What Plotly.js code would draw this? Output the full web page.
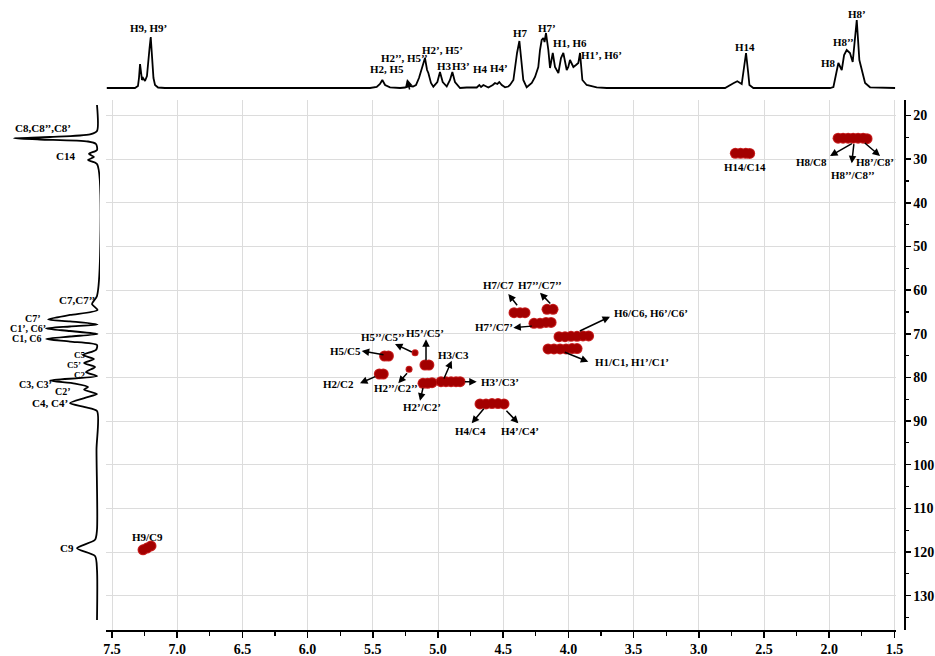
<!DOCTYPE html>
<html>
<head>
<meta charset="utf-8">
<script src="https://cdn.plot.ly/plotly-3.0.1.min.js"></script>
<style>html,body{margin:0;padding:0;background:#fff;}#chart{width:935px;height:656px;}</style>
</head>
<body>
<div id="chart"></div>
<script>
// ---- 1D proton projection (top): chemical shift (ppm) and relative intensity ----
const topPpm = [7.54,7.324,7.301,7.293,7.285,7.278,7.270,7.262,7.247,7.232,7.220,7.212,7.203,7.193,7.182,7.170,7.147,7.094,
  5.521,5.470,5.445,5.427,5.406,5.368,5.291,5.253,5.215,5.192,5.169,5.146,5.125,5.111,5.100,5.084,5.074,5.054,5.036,
  5.005,4.985,4.964,4.933,4.908,4.890,4.870,4.831,4.780,4.703,4.683,4.670,4.652,4.614,4.580,4.563,4.545,4.530,4.511,
  4.486,4.461,4.448,4.422,4.409,4.394,4.376,4.360,4.346,4.320,4.281,4.256,4.231,4.218,4.205,4.192,4.183,4.172,4.154,
  4.141,4.120,4.103,4.077,4.057,4.039,4.013,4.001,3.988,3.962,3.942,3.924,3.911,3.893,3.860,3.821,3.783,3.706,
  2.799,2.735,2.705,2.671,2.653,2.638,2.622,2.612,2.582,
  1.994,1.968,1.948,1.930,1.904,1.886,1.866,1.841,1.820,1.804,1.789,1.769,1.751,1.725,1.687,1.495];
const topInt = [0,0,2,10,24,12,8,10,7,12,25,40,51,30,10,3,0.5,0,
  0,1,4,8,3,0.7,0,0.5,2,1.5,3,10,20,26,30,18,15,5,1.3,
  6,16,6,1.5,8,16,6,0,0.5,0.5,3,1,3,0.5,3,5,4,6,3,
  0.7,1.5,3,8,21,35,47,25,8,0.7,5,11,21,38,48,50,46,55,38,
  20,35,21,15,30,35,18,21,28,21,23,25,35,8,3,2,0.7,0,
  0,4.7,6.7,4,21,35,16,3,0,
  0,1,15,25,18,33,38,35,26,51,68,28,18,5,0.7,0];

// ---- 1D carbon projection (left) ----
const leftPpm = [17.6,23.55,24.35,24.93,25.22,25.50,25.96,26.53,27.9,28.8,29.5,30.2,31.1,
  61.35,63.18,64.56,65.70,66.71,67.17,67.86,68.34,68.80,69.37,70.06,70.63,71.20,71.78,72.58,
  73.70,74.87,75.80,76.70,77.60,78.80,79.70,80.70,81.40,82.20,82.80,83.80,84.70,85.90,86.80,87.70,
  96.6,114.9,117.2,119.15,120.9,124.1,135.6];
const leftInt = [0,0,7,47,83,57,9,1,0,8,3,9,0,
  0,5,-0.5,27,49,27,-0.5,27,51,27,-0.5,27,51,27,0,
  1,14,3,13,2,11,0,47,22,9,13,0,12,27,12,0,
  0.5,0,2,20,2,0,0];

// ---- HSQC cross peaks (1H ppm, 13C ppm) ----
const peakH = [7.262,7.232,7.201,
  1.932,1.894,1.855,1.817,1.779,1.740,1.710,
  2.72,2.68,2.64,2.61,
  4.417,4.371,4.333,
  4.164,4.118,
  4.264,4.218,4.172,4.133,
  4.072,4.026,3.980,3.934,3.888,3.845,
  4.156,4.111,4.064,4.018,3.972,3.934,
  5.41,5.38,
  5.10,5.07,
  5.45,5.42,
  5.115,5.080,5.046,
  4.977,4.939,4.900,4.862,4.831,
  4.678,4.632,4.586,4.540,4.494];
const peakC = [119.5,119.1,118.6,
  25.2,25.2,25.2,25.2,25.2,25.2,25.3,
  28.66,28.66,28.66,28.7,
  65.18,65.18,65.18,
  64.4,64.4,
  67.6,67.6,67.4,67.4,
  70.68,70.68,70.6,70.6,70.5,70.5,
  73.49,73.49,73.49,73.49,73.4,73.4,
  75.1,75.1,
  77.16,77.16,
  79.22,79.22,
  81.35,81.35,81.2,
  80.98,80.98,80.98,80.98,80.98,
  86.09,86.09,86.0,86.0,86.09];
const minorH = [5.176,5.222];
const minorC = [74.34,78.14];

const xTicks = [7.5,7.0,6.5,6.0,5.5,5.0,4.5,4.0,3.5,3.0,2.5,2.0,1.5];
const yTicks = [20,30,40,50,60,70,80,90,100,110,120,130];

// ---- labels ----
const topLabels = [['H9, H9’',148.3,28.3],['H2, H5',387.3,69],['H2’’, H5’’',404,58.3],['H2’, H5’',442.7,50],
  ['H3',444,65.7],['H3’',460.7,65.7],['H4',480,69.3],['H4’',499.3,68.3],['H7',520,33.3],['H7’',546.7,28.3],
  ['H1, H6',570,42.7],['H1’, H6’',601.7,55],['H14',745,46.7],['H8',828.3,62.7],['H8’’',843.3,41.7],['H8’',856.7,14]];
const leftLabels = [['C8,C8’’,C8’',43.3,128.3],['C14',65,156],['C7,C7’’',76.7,300],['C7’',33.3,318.5],
  ['C1’, C6’',28.3,328.3],['C1, C6',26.7,338.8],['C5',80,354.5],['C5’',74,364.5],['C2',80,374.5],
  ['C3, C3’',35,384],['C2’',63.3,391],['C4, C4’',50,403.3],['C9',66.7,548.3]];
const peakLabels = [['H7/C7',498.3,285],['H7’’/C7’’',540,285],['H7’/C7’',494.3,326.7],['H6/C6, H6’/C6’',651,313.3],
  ['H1/C1, H1’/C1’',632,361.7],['H5/C5',345,351],['H5’’/C5’’',383.3,336.7],['H5’/C5’',425,333.3],
  ['H3/C3',453.3,355],['H3’/C3’',500,382.3],['H2/C2',338.3,384],['H2’’/C2’’',396,388.3],['H2’/C2’',421.7,406.7],
  ['H4/C4',470,431],['H4’/C4’',520,431],['H9/C9',147,537],['H14/C14',745,166.7],['H8/C8',811.7,161.7],
  ['H8’’/C8’’',853.3,175],['H8’/C8’',875,161.7]];
const arrows = [[518.3,306.7,508.3,294],[551.7,305,540,292.7],[533.3,326,513.3,327.7],[578.3,331.7,610,316.7],
  [563.3,351.7,588.3,361.7],[385,355,361.7,351],[413.3,352.7,395,344],[426,361.7,426,339.3],[443.3,380,451.7,360.7],
  [463.3,381.7,476.7,381.7],[376.7,376,360,383.3],[408.3,371.7,398.3,383.3],[423.3,386.7,420,400.7],
  [485,407.3,471.7,423.3],[505,409.3,518.3,423.3],[853.3,142.7,830,156],[854,142.7,851.7,163.3],[863.3,141.7,880,156]];

// pixel-position helpers for label placement
const H = px => 7.5 - (px - 112) / 130.4;
const C = py => 20 + (py - 115.5) / 4.365;
const TI = py => 88 - py;
const LI = px => 97 - px;

const FONT = 'Liberation Serif, Times New Roman, serif';
const lblFont = {family: FONT, size: 11, color: '#000', weight: 'bold'};
const smallFont = {family: FONT, size: 10, color: '#000', weight: 'bold'};
const tinyFont = {family: FONT, size: 9, color: '#000', weight: 'bold'};
const tightLeft = ['C7’','C1’, C6’','C1, C6','C3, C3’','C2’'];
const tinyLeft = ['C5','C5’','C2'];

const xRange = [7.546, 1.488];
const yRange = [137.87, 16.45];
const H_TOTAL = 630, W_TOTAL = 906;
const yDom = [0, 530 / H_TOTAL];
const xDom = [106 / W_TOTAL, 896 / W_TOTAL];

const traces = [
  {x: topPpm, y: topInt, xaxis: 'x2', yaxis: 'y2', mode: 'lines', line: {color: '#000', width: 1.8}, hoverinfo: 'skip'},
  {x: leftInt, y: leftPpm, xaxis: 'x3', yaxis: 'y3', mode: 'lines', line: {color: '#000', width: 1.8, shape: 'spline', smoothing: 0.7}, hoverinfo: 'skip'},
  {x: peakH, y: peakC, xaxis: 'x', yaxis: 'y', mode: 'markers', marker: {size: 11, color: 'rgb(200,32,32)', line: {width: 0}}},
  {x: minorH, y: minorC, xaxis: 'x', yaxis: 'y', mode: 'markers', marker: {size: 7, color: 'rgb(200,32,32)', line: {width: 0}}},
  {x: peakH, y: peakC, xaxis: 'x', yaxis: 'y', mode: 'markers', marker: {size: 9, color: '#a30000', line: {width: 0}}},
  {x: minorH, y: minorC, xaxis: 'x', yaxis: 'y', mode: 'markers', marker: {size: 5, color: '#a30000', line: {width: 0}}}
];

const annotations = [];
topLabels.forEach(([t, px, py]) => annotations.push({text: t, x: H(px), y: TI(py), xref: 'x2', yref: 'y2', showarrow: false, font: lblFont}));
leftLabels.forEach(([t, px, py]) => annotations.push({text: t, x: LI(px), y: C(py), xref: 'x3', yref: 'y3', showarrow: false,
  font: tinyLeft.includes(t) ? tinyFont : (tightLeft.includes(t) ? smallFont : lblFont)}));
peakLabels.forEach(([t, px, py]) => annotations.push({text: t, x: H(px), y: C(py), xref: 'x', yref: 'y', showarrow: false, font: lblFont}));
arrows.forEach(([tx, ty, hx, hy]) => annotations.push({text: '', x: H(hx), y: C(hy), ax: H(tx), ay: C(ty), xref: 'x', yref: 'y', axref: 'x', ayref: 'y',
  showarrow: true, arrowhead: 2, arrowsize: 1, arrowwidth: 1.5, arrowcolor: '#000', standoff: 0, startstandoff: 0}));
annotations.push({text: '', x: H(407), y: TI(79), ax: H(410), ay: TI(91), xref: 'x2', yref: 'y2', axref: 'x2', ayref: 'y2',
  showarrow: true, arrowhead: 2, arrowsize: 1, arrowwidth: 1.5, arrowcolor: '#000', standoff: 0});

const tickFont = {family: FONT, size: 14, color: '#000', weight: 'bold'};

const layout = {
  width: 935, height: 656,
  margin: {l: 0, r: 29, t: 0, b: 26},
  paper_bgcolor: '#fff', plot_bgcolor: 'rgba(0,0,0,0)',
  showlegend: false, hovermode: false,
  xaxis: {domain: xDom, range: xRange, anchor: 'y', tickvals: xTicks, ticktext: xTicks.map(v => v.toFixed(1)),
    ticks: 'outside', ticklen: 6, tickwidth: 1.5, tickcolor: '#000', showline: true, linecolor: '#000', linewidth: 1.5,
    showgrid: true, gridcolor: '#dcdcdc', gridwidth: 1, zeroline: false, tickfont: tickFont,
    minor: {dtick: 0.25, tick0: 1.5, ticks: 'outside', ticklen: 4, tickwidth: 1.2, tickcolor: '#000', showgrid: false}},
  yaxis: {domain: yDom, range: yRange, anchor: 'free', position: 904 / W_TOTAL, side: 'right', tickvals: yTicks,
    ticks: 'outside', ticklen: 5, tickwidth: 1.5, tickcolor: '#000', showline: true, linecolor: '#000', linewidth: 1.5,
    showgrid: true, gridcolor: '#dcdcdc', gridwidth: 1, zeroline: false, tickfont: tickFont,
    minor: {dtick: 5, tick0: 0, ticks: 'outside', ticklen: 3, tickwidth: 1.2, tickcolor: '#000', showgrid: false}},
  xaxis2: {domain: xDom, range: xRange, anchor: 'y2', visible: false},
  yaxis2: {domain: [(H_TOTAL - 95) / H_TOTAL, (H_TOTAL - 5) / H_TOTAL], range: [-7, 83], anchor: 'x2', visible: false},
  xaxis3: {domain: [0, 100 / W_TOTAL], range: [97, -3], anchor: 'y3', visible: false},
  yaxis3: {domain: yDom, range: yRange, anchor: 'x3', visible: false},
  annotations: annotations
};

Plotly.newPlot('chart', traces, layout, {staticPlot: true, displayModeBar: false});
</script>
</body>
</html>
